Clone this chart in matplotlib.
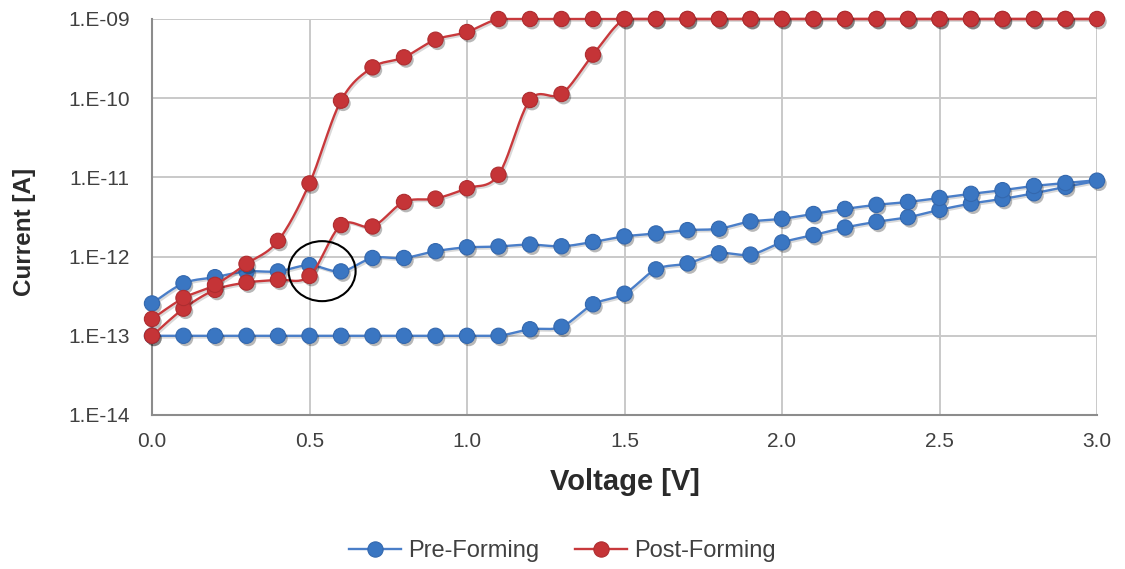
import numpy as np
import matplotlib
matplotlib.use("Agg")
import matplotlib.pyplot as plt
from matplotlib.patches import Ellipse
from matplotlib import patheffects as pe

plt.rcParams['font.family'] = ['Liberation Sans', 'DejaVu Sans']

# Voltage sweep: 0 -> 3 V, then back 3 -> 0 V
v_up = [round(0.1 * i, 1) for i in range(31)]
v_down = [round(3.0 - 0.1 * i, 1) for i in range(1, 31)]

pre_up = [1.0e-13, 1.0e-13, 1.0e-13, 1.0e-13, 1.0e-13, 1.0e-13, 1.0e-13, 1.0e-13,
          1.0e-13, 1.0e-13, 1.0e-13, 1.0e-13, 1.21e-13, 1.30e-13, 2.5e-13, 3.4e-13,
          6.9e-13, 8.2e-13, 1.10e-12, 1.06e-12, 1.51e-12, 1.87e-12, 2.33e-12, 2.75e-12,
          3.14e-12, 3.89e-12, 4.67e-12, 5.35e-12, 6.3e-12, 7.6e-12, 9.1e-12]
pre_down = [8.5e-12, 7.8e-12, 6.9e-12, 6.2e-12, 5.5e-12, 4.9e-12, 4.5e-12, 4.0e-12,
            3.45e-12, 3.0e-12, 2.78e-12, 2.25e-12, 2.16e-12, 1.96e-12, 1.80e-12, 1.53e-12,
            1.35e-12, 1.42e-12, 1.34e-12, 1.31e-12, 1.17e-12, 9.6e-13, 9.6e-13, 6.5e-13,
            7.8e-13, 6.5e-13, 6.5e-13, 5.5e-13, 4.6e-13, 2.56e-13]

post_up = [1.0e-13, 2.2e-13, 3.8e-13, 4.7e-13, 5.1e-13, 5.7e-13, 2.5e-12, 2.4e-12,
           4.9e-12, 5.4e-12, 7.3e-12, 1.08e-11, 9.5e-11, 1.13e-10, 3.55e-10, 1e-9,
           1e-9, 1e-9, 1e-9, 1e-9, 1e-9, 1e-9, 1e-9, 1e-9, 1e-9, 1e-9, 1e-9, 1e-9,
           1e-9, 1e-9, 1e-9]
post_down = [1e-9, 1e-9, 1e-9, 1e-9, 1e-9, 1e-9, 1e-9, 1e-9, 1e-9, 1e-9, 1e-9, 1e-9,
             1e-9, 1e-9, 1e-9, 1e-9, 1e-9, 1e-9, 1e-9, 6.85e-10, 5.48e-10, 3.28e-10,
             2.45e-10, 9.3e-11, 8.4e-12, 1.58e-12, 8.1e-13, 4.4e-13, 3.0e-13, 1.63e-13]

series_names = ["Pre-Forming", "Post-Forming"]
line_colors = ["#4A7EC8", "#C8393C"]
marker_colors = ["#3A76C2", "#C53437"]
marker_edges = ["#3468AE", "#AE2D30"]

x_ticks = [0.0, 0.5, 1.0, 1.5, 2.0, 2.5, 3.0]
x_tick_labels = ["0.0", "0.5", "1.0", "1.5", "2.0", "2.5", "3.0"]
y_ticks = [1e-14, 1e-13, 1e-12, 1e-11, 1e-10, 1e-9]
y_tick_labels = ["1.E-14", "1.E-13", "1.E-12", "1.E-11", "1.E-10", "1.E-09"]

# highlighted region around the switching point
mark_v, mark_i = 0.54, 6.55e-13

W, H = 1125, 569
fig = plt.figure(figsize=(W / 100, H / 100), dpi=100)
ax = fig.add_axes([152 / W, 1 - 415 / H, 945 / W, 396 / H])
ax.set_yscale("log")
ax.set_xlim(0, 3.0)
ax.set_ylim(1e-14, 1e-9)


def smooth_curve(xs, ys, n=24):
    """Bezier smoothing through the points, done in screen space."""
    pts = ax.transData.transform(np.column_stack([xs, ys]))
    out = [pts[0]]
    m = len(pts)
    t = np.linspace(0, 1, n)[1:, None]
    for i in range(m - 1):
        p0 = pts[i - 1] if i > 0 else pts[i]
        p1, p2 = pts[i], pts[i + 1]
        p3 = pts[i + 2] if i + 2 < m else pts[i + 1]
        c1 = p1 + (p2 - p0) / 6.0
        c2 = p2 - (p3 - p1) / 6.0
        seg = ((1 - t) ** 3) * p1 + 3 * ((1 - t) ** 2) * t * c1 + 3 * (1 - t) * t ** 2 * c2 + t ** 3 * p2
        out.extend(seg)
    out = np.array(out)
    # keep the curve from bulging past the highest / lowest measured value
    out[:, 1] = np.clip(out[:, 1], pts[:, 1].min(), pts[:, 1].max())
    data = ax.transData.inverted().transform(out)
    return data[:, 0], data[:, 1]


all_series = [(pre_up, pre_down), (post_up, post_down)]
handles = []
ms = 11
for k, (up, down) in enumerate(all_series):
    xs = np.array(v_up + v_down)
    ys = np.array(up + down)
    sx, sy = smooth_curve(xs, ys)
    ax.plot(sx, sy, color=line_colors[k], lw=1.7, zorder=3 + k, clip_on=False,
            solid_joinstyle="round",
            path_effects=[pe.SimpleLineShadow(offset=(1.2, -1.2), shadow_color="k", alpha=0.15),
                          pe.Normal()])
    ax.plot(xs, ys, ls="none", marker="o", ms=ms, mfc=marker_colors[k],
            mec=marker_edges[k], mew=0.8, zorder=3.5 + k, clip_on=False,
            path_effects=[pe.SimplePatchShadow(offset=(1.5, -2.0), shadow_rgbFace="k", alpha=0.28),
                          pe.Normal()])
    h, = ax.plot([], [], color=line_colors[k], lw=1.7, marker="o", ms=ms,
                 mfc=marker_colors[k], mec=marker_edges[k], mew=0.8)
    handles.append(h)

# ellipse marking the crossover region
bbox = ax.get_window_extent()
cx = mark_v / 3.0
cy = (np.log10(mark_i) + 14) / 5.0
ax.add_patch(Ellipse((cx, cy), 67 / bbox.width, 60 / bbox.height, transform=ax.transAxes,
                     fill=False, edgecolor="black", lw=1.5, zorder=6, clip_on=False))

ax.set_xticks(x_ticks)
ax.set_xticklabels(x_tick_labels)
ax.set_yticks(y_ticks)
ax.set_yticklabels(y_tick_labels)
ax.minorticks_off()
ax.tick_params(axis="both", length=0, labelsize=15, labelcolor="#404040")
ax.tick_params(axis="y", pad=16)
ax.tick_params(axis="x", pad=12)

ax.grid(True, color="#C9C9C9", lw=1.4)
ax.set_axisbelow(True)
for s in ["top", "right"]:
    ax.spines[s].set_visible(False)
for s in ["left", "bottom"]:
    ax.spines[s].set_color("#8C8C8C")
    ax.spines[s].set_linewidth(1.5)

ax.set_xlabel("Voltage [V]", fontsize=21, fontweight="bold", color="#2A2A2A")
ax.set_ylabel("Current [A]", fontsize=17.5, fontweight="bold", color="#2A2A2A")
ax.xaxis.set_label_coords(0.5, -(468 - 415) / 396)
ax.yaxis.set_label_coords(-(152 - 36) / 945, 1 - (232 - 19) / 396)

fig.legend(handles, series_names, loc="center", bbox_to_anchor=(0.5, 1 - 551 / H),
           ncol=2, frameon=False, fontsize=17, handlelength=2.2, columnspacing=1.5,
           handletextpad=0.3, labelcolor="#404040")

fig.savefig("out.png", dpi=100, facecolor="white")
